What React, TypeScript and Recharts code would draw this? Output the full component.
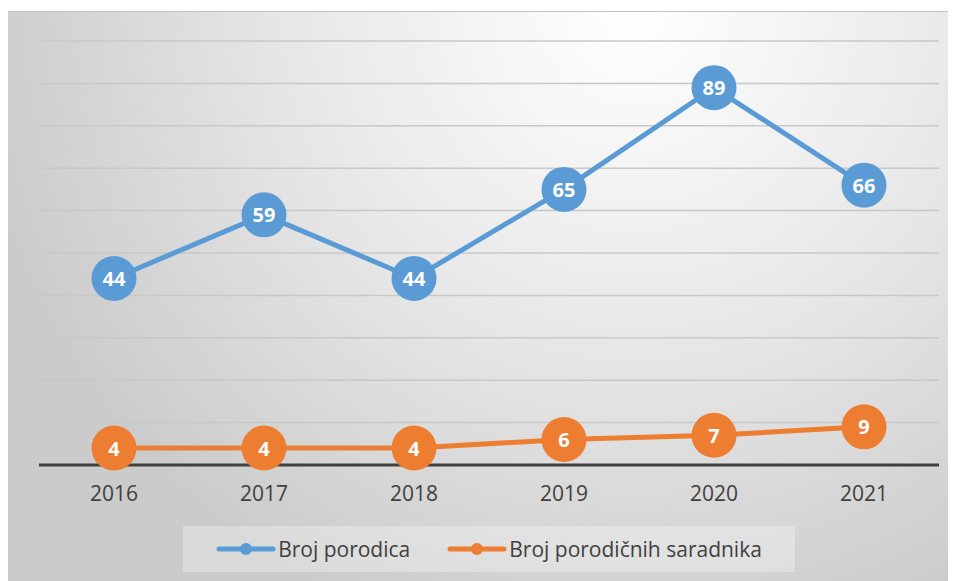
import React from "react";
import {
  LineChart,
  Line,
  XAxis,
  YAxis,
  CartesianGrid,
  Legend,
} from "recharts";

const years = ["2016", "2017", "2018", "2019", "2020", "2021"];
const brojPorodica = [44, 59, 44, 65, 89, 66];
const brojSaradnika = [4, 4, 4, 6, 7, 9];
const yTicks = [0, 10, 20, 30, 40, 50, 60, 70, 80, 90, 100];

const SERIES = [
  { key: "porodice", name: "Broj porodica", color: "#5b9bd5" },
  { key: "saradnici", name: "Broj porodičnih saradnika", color: "#ed7d31" },
];

const data = years.map((year, i) => ({
  year,
  porodice: brojPorodica[i],
  saradnici: brojSaradnika[i],
}));

const FONT = "'Open Sans', 'Noto Sans', sans-serif";

// big bubble with the value written inside
function makeDot(dataKey: string, color: string) {
  return (props: any) => {
    const { cx, cy, payload, index } = props;
    if (cx == null || cy == null) return <g key={`${dataKey}-${index}`} />;
    return (
      <g key={`${dataKey}-${index}`}>
        <circle cx={cx} cy={cy} r={22.5} fill={color} />
        <text
          x={cx}
          y={cy}
          textAnchor="middle"
          dominantBaseline="central"
          fill="#ffffff"
          fontFamily={FONT}
          fontWeight={700}
          fontSize={20}
        >
          {payload[dataKey]}
        </text>
      </g>
    );
  };
}

function renderLegend(props: any) {
  const items = props.payload || [];
  return (
    <div
      style={{
        width: 612,
        height: 46,
        display: "flex",
        alignItems: "center",
        justifyContent: "center",
        gap: 37,
        background: "rgba(255,255,255,0.3)",
        fontFamily: FONT,
        fontSize: 21,
        color: "#404040",
      }}
    >
      {items.map((item: any) => (
        <div key={item.value} style={{ display: "flex", alignItems: "center" }}>
          <svg width={60} height={14} style={{ marginRight: 2 }}>
            <line
              x1={3}
              x2={57}
              y1={7}
              y2={7}
              stroke={item.color}
              strokeWidth={5}
              strokeLinecap="round"
            />
            <circle cx={30} cy={7} r={6} fill={item.color} />
          </svg>
          <span>{item.value}</span>
        </div>
      ))}
    </div>
  );
}

export default function App() {
  return (
    <div
      style={{
        width: 948,
        height: 570,
        marginTop: 3,
        borderTop: "1px solid #c4c4c4",
        boxSizing: "border-box",
        background:
          "radial-gradient(ellipse 70% 115% at 66% 0%, #ffffff 0%, #e8e8e8 50%, #cbcbcb 100%)",
      }}
    >
      <LineChart
        width={948}
        height={569}
        data={data}
        margin={{ top: 29, right: 17, left: 31, bottom: 76 }}
      >
        <CartesianGrid
          vertical={false}
          stroke="#c8c8c8"
          strokeWidth={1.5}
        />
        <XAxis
          dataKey="year"
          padding={{ left: 75, right: 75 }}
          height={40}
          tickSize={0}
          tickMargin={21}
          tickLine={false}
          axisLine={{ stroke: "#404040", strokeWidth: 3 }}
          tick={{ fill: "#404040", fontSize: 21, fontFamily: FONT }}
        />
        <YAxis hide domain={[0, 100]} ticks={yTicks} />
        <Legend
          verticalAlign="middle"
          layout="horizontal"
          content={renderLegend}
          wrapperStyle={{ top: 514, left: 175, width: 612 }}
        />
        {SERIES.map((s) => (
          <Line
            key={s.key}
            type="linear"
            dataKey={s.key}
            name={s.name}
            stroke={s.color}
            strokeWidth={5}
            dot={makeDot(s.key, s.color)}
            activeDot={false}
            isAnimationActive={false}
          />
        ))}
      </LineChart>
    </div>
  );
}
